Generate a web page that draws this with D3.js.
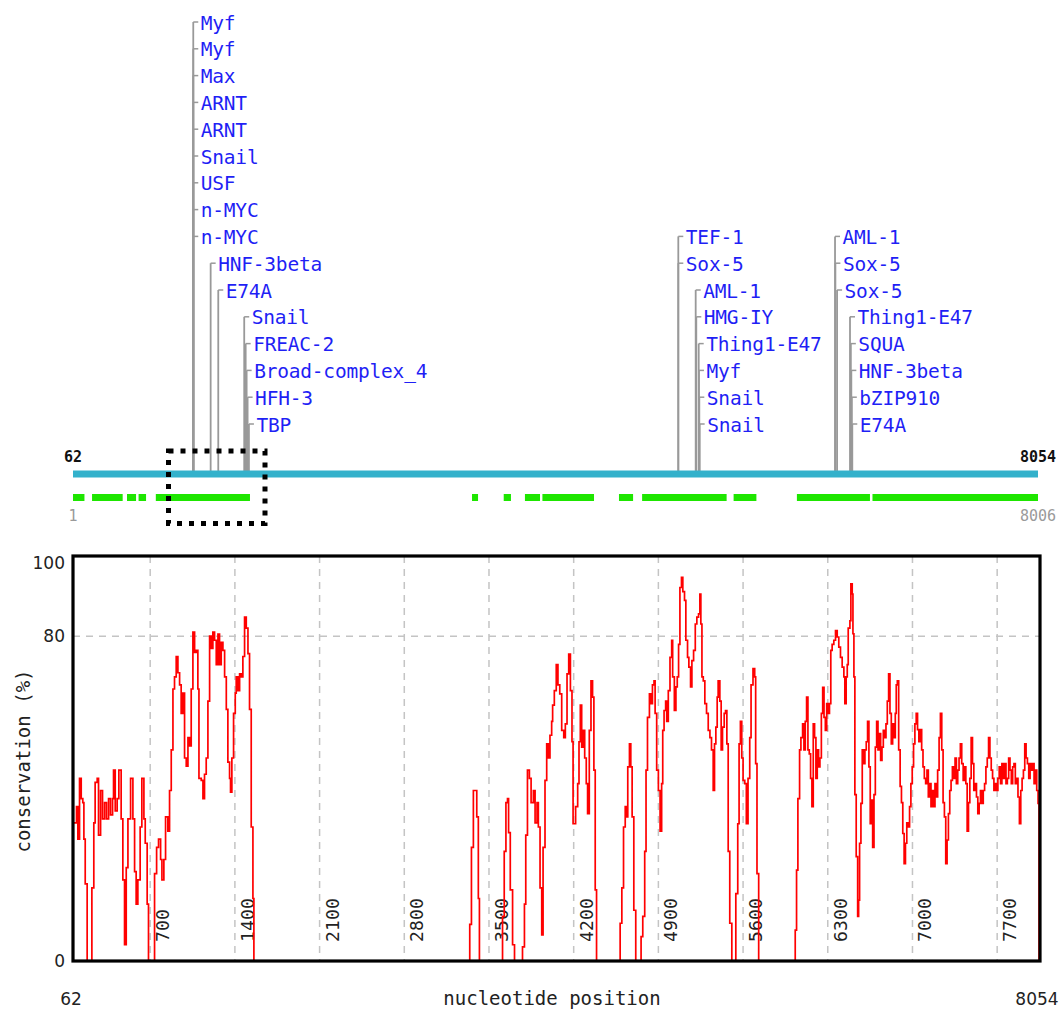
<!DOCTYPE html>
<html>
<head>
<meta charset="utf-8">
<script src="https://cdn.jsdelivr.net/npm/d3@7"></script>
<style>
  body { margin: 0; background: #fff; }
  svg { display: block; }
</style>
</head>
<body>
<svg id="chart" width="1060" height="1009"></svg>
<script>
// ---- sequence coordinates ----
const seqStart = 62, seqEnd = 8054;        // annotated sequence (blue bar)
const alignStart = 1, alignEnd = 8006;     // alignment coordinates (green blocks)

// ---- transcription factor binding sites ----
const siteNames = [
  "Myf", "Myf", "Max", "ARNT", "ARNT", "Snail", "USF", "n-MYC", "n-MYC",
  "HNF-3beta", "E74A", "Snail", "FREAC-2", "Broad-complex_4", "HFH-3", "TBP",
  "TEF-1", "Sox-5", "AML-1", "HMG-IY", "Thing1-E47", "Myf", "Snail", "Snail",
  "AML-1", "Sox-5", "Sox-5", "Thing1-E47", "SQUA", "HNF-3beta", "bZIP910", "E74A"
];
const sitePositions = [
  1058, 1058, 1058, 1058, 1058, 1058, 1058, 1058, 1058,
  1202, 1265, 1480, 1492, 1500, 1508, 1519,
  5075, 5075, 5219, 5224, 5244, 5246, 5249, 5252,
  6373, 6376, 6390, 6497, 6504, 6508, 6512, 6516
];
const siteRows = [
  0, 1, 2, 3, 4, 5, 6, 7, 8,
  9, 10, 11, 12, 13, 14, 15,
  8, 9, 10, 11, 12, 13, 14, 15,
  8, 9, 10, 11, 12, 13, 14, 15
];

// ---- conserved blocks (alignment coordinates) ----
const blockStarts = [1, 159, 449, 545, 688, 3311, 3574, 3750, 3895, 4530, 4722, 5481, 6006, 6633];
const blockEnds   = [96, 413, 524, 607, 1469, 3361, 3634, 3875, 4323, 4647, 5423, 5670, 6612, 8006];

// ---- conservation profile (%) along the sequence ----
const profilePos = [
  62, 91, 102, 116, 130, 143, 152, 163, 179, 218, 234, 245, 262, 273, 290, 306, 323, 339, 356, 372,
  389, 397, 411, 427, 441, 460, 474, 488, 502, 516, 538, 557, 571, 584, 598, 617, 631, 648, 659, 675,
  686, 736, 753, 769, 786, 797, 813, 827, 846, 860, 874, 888, 901, 915, 929, 943, 956, 970, 984, 998,
  1012, 1025, 1039, 1053, 1067, 1081, 1094, 1103, 1122, 1136, 1149, 1163, 1177, 1191, 1205, 1218, 1232, 1246, 1260, 1273,
  1287, 1301, 1315, 1329, 1342, 1356, 1364, 1375, 1389, 1403, 1411, 1425, 1439, 1453, 1466, 1480, 1494, 1508, 1521, 1535,
  1549, 1557,
  3333, 3341, 3355, 3371, 3399, 3412, 3421,
  3607, 3612, 3626, 3640, 3653, 3662, 3676, 3695, 3711,
  3766, 3777, 3793, 3804, 3818, 3834, 3848, 3867, 3881, 3897, 3908, 3922, 3936, 3947, 3963, 3977, 3991, 4004, 4018, 4026,
  4040, 4056, 4070, 4085, 4101, 4118, 4131, 4145, 4159, 4173, 4186, 4195, 4216, 4233, 4244, 4255, 4266, 4277, 4291, 4304,
  4315, 4329, 4343, 4356, 4367, 4378, 4389,
  4579, 4584, 4598, 4612, 4626, 4639, 4647, 4661, 4672, 4683, 4697, 4713,
  4749, 4757, 4771, 4787, 4798, 4810, 4826, 4840, 4851, 4864, 4873, 4886, 4900, 4914, 4927, 4936, 4947, 4960, 4969, 4982,
  4996, 5010, 5018, 5032, 5045, 5056, 5067, 5078, 5091, 5102, 5116, 5127, 5141, 5152, 5166, 5177, 5191, 5205, 5218, 5232,
  5243, 5251, 5260, 5271, 5284, 5298, 5312, 5326, 5339, 5353, 5364, 5375, 5386, 5394, 5408, 5419, 5430, 5444, 5455, 5466,
  5477, 5490, 5507,
  5529, 5540, 5556, 5567, 5578, 5589, 5600, 5614, 5627, 5641, 5655, 5666, 5682, 5696, 5704, 5715, 5729,
  6025, 6031, 6042, 6053, 6067, 6078, 6092, 6103, 6114, 6125, 6136, 6147, 6158, 6169, 6180, 6191, 6202, 6213, 6224, 6235,
  6247, 6258, 6269, 6280, 6291, 6303, 6314, 6325, 6336, 6350, 6364, 6378, 6391, 6405, 6419, 6433, 6441, 6452, 6461, 6469,
  6483, 6491, 6502, 6508, 6516, 6524, 6535, 6547, 6555, 6563, 6574, 6585, 6596, 6607, 6618, 6629, 6640, 6651, 6662, 6671,
  6682, 6693, 6704, 6715, 6726, 6737, 6748, 6759, 6770, 6781, 6792, 6803, 6814, 6825, 6836, 6847, 6858, 6866, 6875, 6886,
  6898, 6909, 6920, 6931, 6942, 6953, 6964, 6976, 6987, 6998, 7009, 7020, 7031, 7042, 7053, 7064, 7076, 7087, 7098, 7109,
  7120, 7131, 7142, 7153, 7164, 7175, 7186, 7197, 7208, 7220, 7231, 7242, 7253, 7264, 7275, 7286, 7297, 7308, 7319, 7330,
  7341, 7352, 7363, 7374, 7385, 7396, 7407, 7419, 7430, 7441, 7452, 7463, 7474, 7485, 7496, 7507, 7518, 7529, 7540, 7551,
  7562, 7573, 7585, 7596, 7607, 7618, 7629, 7640, 7651, 7662, 7673, 7684, 7695, 7706, 7717, 7728, 7739, 7751, 7762, 7773,
  7784, 7795, 7806, 7817, 7828, 7839, 7850, 7861, 7872, 7884, 7895, 7906, 7917, 7928, 7939, 7950, 7961, 7972, 7983, 7994,
  8005, 8016, 8027, 8038, 8046, 8054
];
const profileVal = [
  34, 38, 30, 45, 40, 39, 30, 19, 0, 18, 34, 44, 45, 31, 42, 35, 39, 35, 40, 36,
  40, 47, 37, 40, 47, 35, 20, 4, 23, 35, 45, 35, 22, 14, 20, 33, 45, 35, 29, 14,
  0, 21.5, 28, 30, 25, 20, 25, 35.5, 32, 42, 52, 67, 70, 75, 71, 68, 61, 66, 50, 48,
  55, 53, 67, 81, 76, 76.5, 67, 45, 44.5, 40, 46, 50, 64, 80, 77, 81, 79, 73, 80.5, 73,
  78.5, 76.5, 70, 62, 49, 45, 41.6, 50, 61, 66, 70, 66.6, 70.7, 70, 75, 84.7, 82, 75.7, 62, 33,
  15.4, 0,
  0, 9, 28, 42, 35.5, 15.4, 0,
  0, 11, 27, 39, 40, 31.6, 17.5, 4, 0,
  0, 3.5, 14, 31, 47, 45, 39, 42, 34, 39, 33, 18, 6.4, 28, 44.5, 53.5, 50, 55.6, 59, 63,
  66.6, 73, 68, 65.8, 56.8, 55, 58.4, 70.7, 75.6, 66.6, 54, 33.8, 38, 43.7, 54, 63, 52.7, 56.8, 50, 43.7,
  36.3, 56.8, 69, 65, 47, 17.5, 0,
  0, 9.3, 18, 33, 38, 35.5, 47.8, 53.5, 47.8, 35.5, 12.5, 0,
  0, 6, 11, 27, 47, 60, 65.8, 63.4, 68, 69, 61, 47, 42, 32, 43.7, 56.8, 61.7, 64, 59, 66.6,
  74.8, 79, 70, 61.7, 67.5, 70, 78, 92, 94.5, 91, 88.8, 79, 74.8, 72.4, 67.5, 74, 76.5, 83, 84.7, 85.5,
  90.4, 83, 70, 69, 63.4, 61, 56.8, 55, 52, 42, 53.5, 57.6, 65, 69, 64, 52, 57.6, 61, 61.7, 53.5,
  27, 9.3, 0,
  0, 16.6, 33.8, 53.5, 59, 50, 44.5, 43.7, 33.8, 45, 55, 68, 72, 70, 48.6, 21.5, 0,
  0, 7.6, 22.4, 40, 52, 55, 58.4, 52, 59, 65, 52, 51, 45, 38, 58.4, 55, 45, 52, 47.8, 50,
  61, 67.4, 60, 56.8, 63.4, 61, 63.4, 76.5, 78, 79, 81.4, 79.8, 77.3, 74.8, 72.4, 70, 63.4, 70, 73, 82,
  83.8, 92.9, 90.4, 80.6, 70, 41, 25.7, 11, 15, 29, 38.8, 52, 48.6, 52, 54, 59, 47.8, 33.8, 39.6, 28,
  41, 52.7, 59, 52, 56, 49.4, 52.7, 56.8, 55, 58.4, 64, 70.7, 61, 53.5, 58.4, 55, 61, 68, 69, 52,
  43, 39, 31.4, 24, 29, 34, 33, 38, 43.7, 47.8, 53.5, 58.4, 61, 57, 54, 57, 52, 47.8, 45, 43.7,
  47, 40.4, 43.7, 38, 42, 38, 43.7, 40.4, 47, 55, 61, 52, 39, 35.5, 24, 29.8, 36.3, 42, 44.5, 47.8,
  45, 50, 43.7, 47, 50, 53.5, 48.6, 44.5, 47.8, 43.7, 32, 39, 45, 55, 48.6, 42, 43.7, 40.4, 36.3, 38.8,
  42, 38.8, 42, 43.7, 47.8, 50, 55, 50, 47, 45, 42, 43.7, 42, 45, 47.8, 43.7, 48.6, 45, 48.6, 43.7,
  45, 50, 47, 43.7, 47.8, 48.6, 43.7, 45, 40.4, 33.8, 42, 45, 47, 53.5, 50, 48.6, 45, 48.6, 47, 48.6,
  43.7, 47, 42, 38.8, 0, 0
];

// ---- axis ticks ----
const xGridTicks = [700, 1400, 2100, 2800, 3500, 4200, 4900, 5600, 6300, 7000, 7700];
const yTickValues = [0, 80, 100];
const yGridTicks = [80];

// ---------------------------------------------------------------
const svg = d3.select("#chart");
const mono = "'DejaVu Sans Mono', 'Liberation Mono', monospace";
const sans = "'DejaVu Sans', 'Liberation Sans', sans-serif";

// ===== annotation track =====
const trackLeft = 73, trackRight = 1038;
const xSeq = d3.scaleLinear().domain([seqStart, seqEnd]).range([trackLeft, trackRight]);
const xAln = d3.scaleLinear().domain([alignStart, alignEnd]).range([trackLeft, trackRight]);
const barY = 474;                    // centre of the sequence bar
const rowBaseline = k => 29.5 + 26.8 * k;

const sites = siteNames.map((name, i) => ({ name, pos: sitePositions[i], row: siteRows[i] }));

const siteG = svg.append("g").attr("class", "sites");
siteG.selectAll("line.stem")
  .data(sites)
  .join("line")
  .attr("class", "stem")
  .attr("x1", d => xSeq(d.pos)).attr("x2", d => xSeq(d.pos))
  .attr("y1", d => rowBaseline(d.row) - 7.5)
  .attr("y2", barY - 3)
  .attr("stroke", "#999")
  .attr("stroke-width", 1.8);

siteG.selectAll("line.tick")
  .data(sites)
  .join("line")
  .attr("class", "tick")
  .attr("x1", d => xSeq(d.pos)).attr("x2", d => xSeq(d.pos) + 5)
  .attr("y1", d => rowBaseline(d.row) - 7.5)
  .attr("y2", d => rowBaseline(d.row) - 7.5)
  .attr("stroke", "#999")
  .attr("stroke-width", 1.5);

siteG.selectAll("text")
  .data(sites)
  .join("text")
  .attr("x", d => xSeq(d.pos) + 7.5)
  .attr("y", d => rowBaseline(d.row))
  .attr("font-family", mono)
  .attr("font-size", "19.5px")
  .attr("letter-spacing", "-0.2px")
  .attr("fill", "#1f1ff5")
  .text(d => d.name);

// sequence bar
svg.append("rect")
  .attr("x", xSeq(seqStart)).attr("y", barY - 3.5)
  .attr("width", xSeq(seqEnd) - xSeq(seqStart)).attr("height", 7)
  .attr("fill", "#33b1cb");

svg.append("text")
  .attr("x", xSeq(seqStart)).attr("y", 462)
  .attr("text-anchor", "middle")
  .attr("font-family", mono).attr("font-size", "15px").attr("font-weight", "bold")
  .attr("fill", "#111")
  .text(seqStart);
svg.append("text")
  .attr("x", xSeq(seqEnd)).attr("y", 462)
  .attr("text-anchor", "middle")
  .attr("font-family", mono).attr("font-size", "15px").attr("font-weight", "bold")
  .attr("fill", "#111")
  .text(seqEnd);

// conserved blocks
const blocks = blockStarts.map((s, i) => ({ s, e: blockEnds[i] }));
svg.append("g").selectAll("rect")
  .data(blocks)
  .join("rect")
  .attr("x", d => xAln(d.s))
  .attr("y", 494)
  .attr("width", d => xAln(d.e) - xAln(d.s))
  .attr("height", 7)
  .attr("fill", "#1ee600");

svg.append("text")
  .attr("x", xAln(alignStart)).attr("y", 521)
  .attr("text-anchor", "middle")
  .attr("font-family", mono).attr("font-size", "15px")
  .attr("fill", "#9a9a9a")
  .text(alignStart);
svg.append("text")
  .attr("x", xAln(alignEnd)).attr("y", 521)
  .attr("text-anchor", "middle")
  .attr("font-family", mono).attr("font-size", "15px")
  .attr("fill", "#9a9a9a")
  .text(alignEnd);

// highlighted region (dotted box)
svg.append("rect")
  .attr("x", 168.5).attr("y", 451)
  .attr("width", 96.5).attr("height", 72.5)
  .attr("fill", "none")
  .attr("stroke", "#000")
  .attr("stroke-width", 5)
  .attr("stroke-dasharray", "5,7");

// ===== conservation plot =====
const plot = { left: 73, right: 1040, top: 556, bottom: 961 };
const x = d3.scaleLinear().domain([seqStart, seqEnd]).range([plot.left, plot.right]);
const y = d3.scaleLinear().domain([0, 100]).range([plot.bottom, 555]);

// grid
const grid = svg.append("g").attr("class", "grid")
  .attr("stroke", "#c4c4c4").attr("stroke-width", 1.5).attr("stroke-dasharray", "7,6");
grid.selectAll("line.v")
  .data(xGridTicks)
  .join("line")
  .attr("class", "v")
  .attr("x1", d => x(d)).attr("x2", d => x(d))
  .attr("y1", plot.top).attr("y2", plot.bottom);
grid.selectAll("line.h")
  .data(yGridTicks)
  .join("line")
  .attr("class", "h")
  .attr("x1", plot.left).attr("x2", plot.right)
  .attr("y1", d => y(d)).attr("y2", d => y(d));

// rotated position labels inside the plot
svg.append("g").selectAll("text")
  .data(xGridTicks)
  .join("text")
  .attr("transform", d => `translate(${x(d) + 19},942) rotate(-90)`)
  .attr("font-family", mono)
  .attr("font-size", "18px")
  .attr("letter-spacing", "0.2px")
  .attr("fill", "#222")
  .text(d => d);

// conservation profile
svg.append("clipPath").attr("id", "plotClip")
  .append("rect")
  .attr("x", plot.left).attr("y", plot.top)
  .attr("width", plot.right - plot.left).attr("height", plot.bottom - plot.top);

const profile = profilePos.map((p, i) => ({ pos: p, val: profileVal[i] }));
const line = d3.line()
  .x(d => x(d.pos))
  .y(d => y(d.val))
  .curve(d3.curveStepAfter);

svg.append("path")
  .datum(profile)
  .attr("clip-path", "url(#plotClip)")
  .attr("d", line)
  .attr("fill", "none")
  .attr("stroke", "#ff0000")
  .attr("stroke-width", 1.7)
  .attr("stroke-linejoin", "miter");

// frame
svg.append("rect")
  .attr("x", plot.left).attr("y", plot.top)
  .attr("width", plot.right - plot.left).attr("height", plot.bottom - plot.top)
  .attr("fill", "none")
  .attr("stroke", "#000")
  .attr("stroke-width", 3.2);

// y tick labels
svg.append("g").selectAll("text")
  .data(yTickValues)
  .join("text")
  .attr("x", 65)
  .attr("y", d => Math.max(y(d), 563) + 6)
  .attr("text-anchor", "end")
  .attr("font-family", sans)
  .attr("font-size", "17px")
  .attr("fill", "#222")
  .text(d => d);

// end positions under the plot
svg.append("text")
  .attr("x", x(seqStart) - 2).attr("y", 1005)
  .attr("text-anchor", "middle")
  .attr("font-family", sans).attr("font-size", "17px").attr("fill", "#222")
  .text(seqStart);
svg.append("text")
  .attr("x", x(seqEnd) - 3).attr("y", 1005)
  .attr("text-anchor", "middle")
  .attr("font-family", sans).attr("font-size", "17px").attr("fill", "#222")
  .text(seqEnd);

// axis titles
svg.append("text")
  .attr("x", 552).attr("y", 1005)
  .attr("text-anchor", "middle")
  .attr("font-family", mono).attr("font-size", "19px").attr("fill", "#222")
  .text("nucleotide position");
svg.append("text")
  .attr("transform", "translate(30,761) rotate(-90)")
  .attr("text-anchor", "middle")
  .attr("font-family", mono).attr("font-size", "19px").attr("fill", "#222")
  .text("conservation (%)");
</script>
</body>
</html>
